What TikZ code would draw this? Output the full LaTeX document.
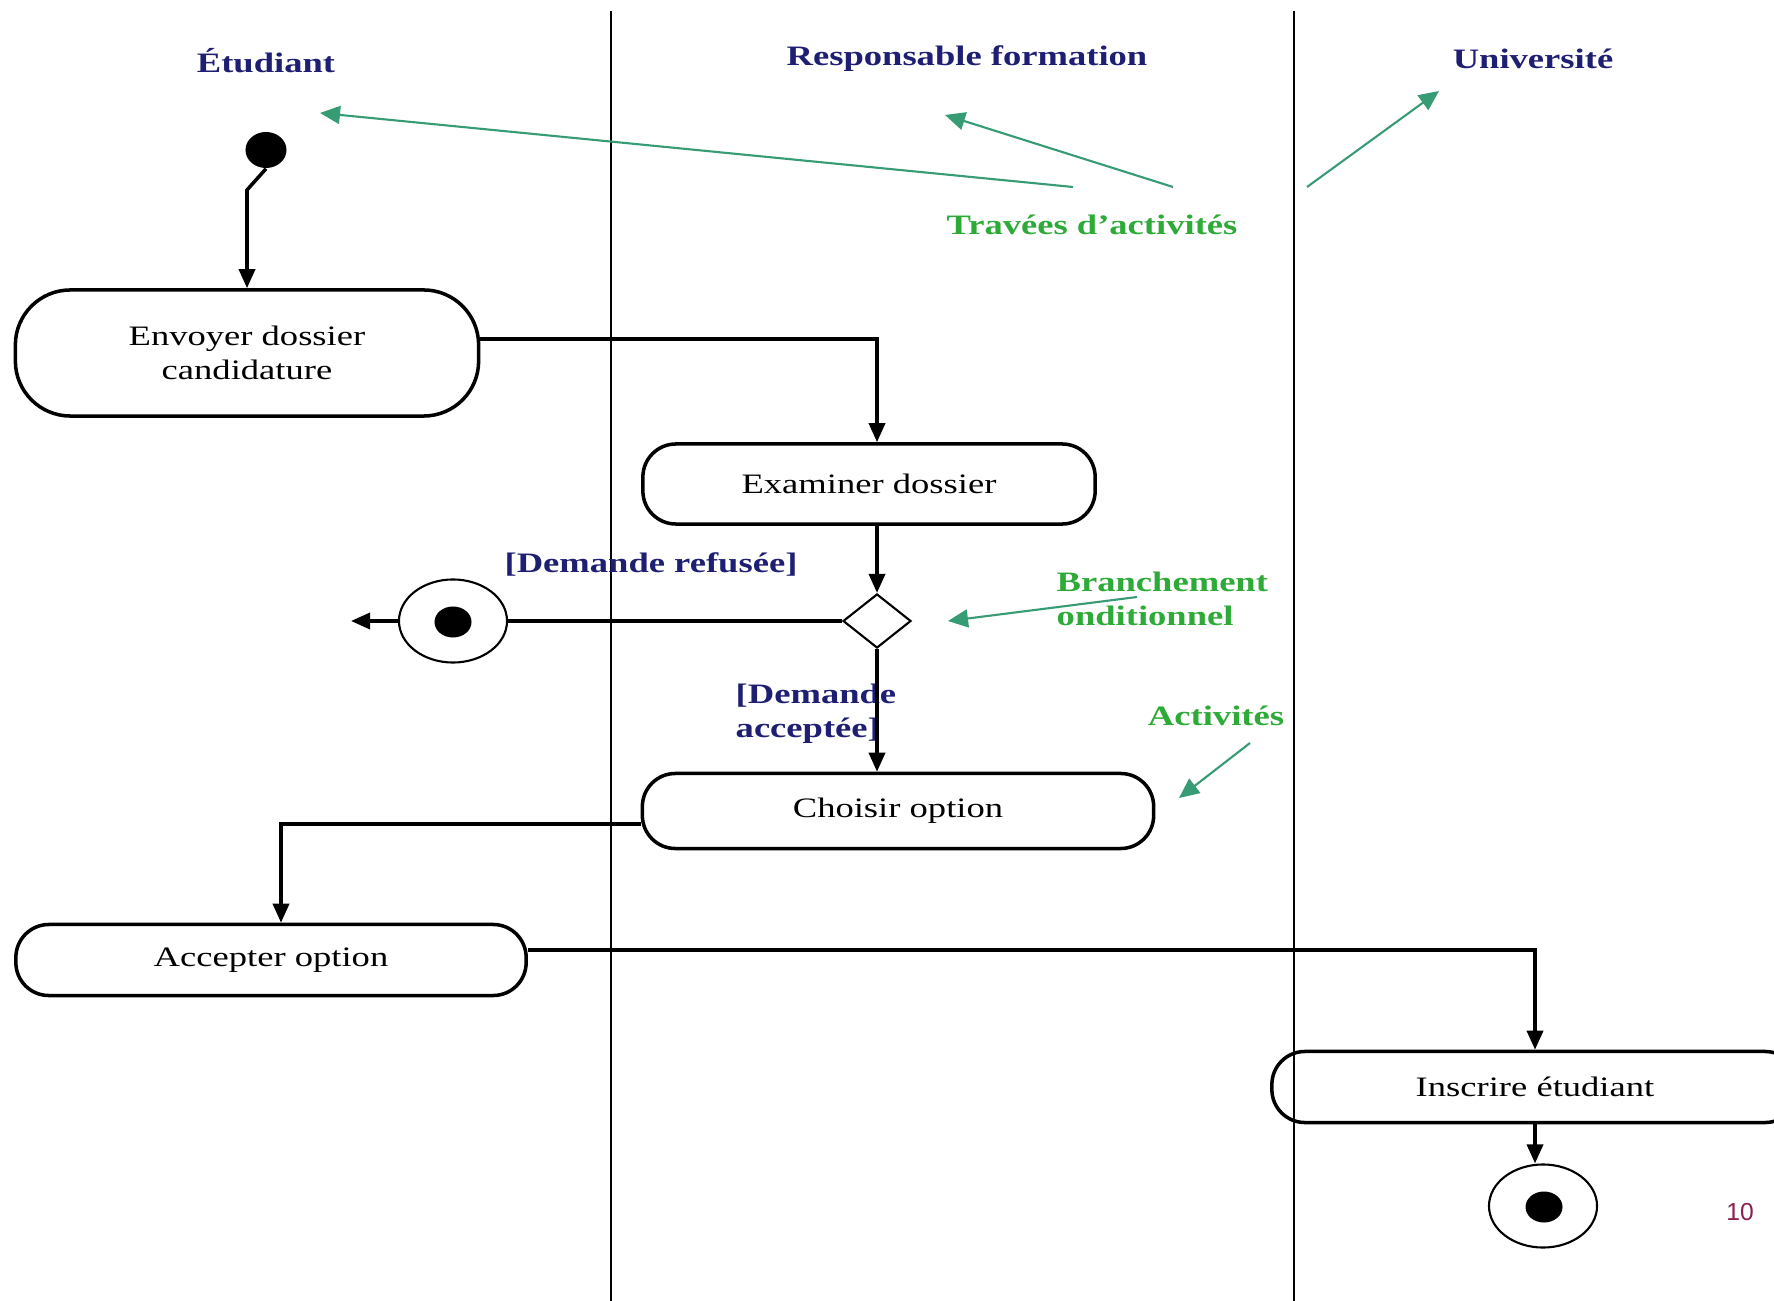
\documentclass[tikz,border=0pt]{standalone}
\usepackage{fontspec}
\setmainfont{Liberation Serif}[FakeStretch=1.3]
\newfontfamily\numfont{Liberation Sans}
\usetikzlibrary{shapes.geometric,arrows.meta}
\definecolor{titre}{RGB}{30,30,115}
\definecolor{vertTexte}{RGB}{45,170,55}
\definecolor{vertFleche}{RGB}{55,155,115}
\definecolor{numero}{RGB}{140,30,80}

\begin{document}
\begin{tikzpicture}[x=0.01cm,y=-0.01cm,
  activite/.style={draw,line width=1pt,rectangle,rounded corners=0.33cm,minimum height=0.8cm,align=center,font=\fontsize{8}{9.7}\selectfont},
  couloir/.style={titre,font=\bfseries\fontsize{8}{9.7}\selectfont},
  garde/.style={titre,align=left,inner sep=0pt,font=\bfseries\fontsize{8}{9.7}\selectfont},
  remarque/.style={vertTexte,align=left,inner sep=0pt,font=\bfseries\fontsize{8}{9.7}\selectfont},
  fleche/.style={line width=1pt,-{Triangle[length=0.19cm,width=0.16cm]}},
  renvoi/.style={vertFleche,semithick,-{Triangle[length=0.2cm,width=0.18cm]}},
  depart/.style={fill,ellipse,minimum width=0.41cm,minimum height=0.36cm,inner sep=0pt},
  decision/.style={draw,semithick,diamond,minimum width=0.68cm,minimum height=0.54cm,inner sep=0pt},
  finale/.style={draw,semithick,ellipse,minimum width=1.08cm,minimum height=0.83cm,inner sep=0pt},
  pastille/.style={fill,ellipse,minimum width=0.37cm,minimum height=0.31cm,inner sep=0pt}]
\useasboundingbox (0,0) rectangle (1774,1301);
\clip (0,0) rectangle (1774,1301);
%\draw[help lines,yellow,thin] (0,0) grid[step=100] (1774,1301);
\draw [semithick] (611,11) -- (611,1301);
\draw [semithick] (1294,11) -- (1294,1301);
\node [couloir] (etudiant) at (266,61) {Étudiant};
\node [couloir] (responsable) at (967,59) {Responsable formation};
\node [couloir] (universite) at (1533,59) {Université};
\node [depart] (debut) at (266,150) {};
\node [activite,minimum width=4.63cm,minimum height=1.26cm,rounded corners=0.55cm] (envoyer) at (247,353) {Envoyer dossier\\candidature};
\node [activite,minimum width=4.52cm] (examiner) at (869,484) {Examiner dossier};
\node [decision] (choix) at (877,621) {};
\node [finale] (finRefus) at (453,621) {};
\node [pastille] (pointRefus) at (453,622) {};
\coordinate (sortie) at (351,621);
\node [activite,minimum width=5.11cm,minimum height=0.75cm] (choisir) at (898,811) {Choisir option};
\node [activite,minimum width=5.1cm,minimum height=0.71cm] (accepter) at (271,960) {Accepter option};
\node [activite,minimum width=5.26cm,minimum height=0.71cm] (inscrire) at (1535,1087) {Inscrire étudiant};
\node [finale] (fin) at (1543,1206) {};
\node [pastille] (pointFin) at (1544,1207) {};
\node [garde] (refusee) at (651,564) {[Demande refusée]};
\node [garde,anchor=west] (acceptee) at (735,714) {[Demande\\acceptée]};
\node [remarque] (travees) at (1092,225) {Travées d'activités};
\node [remarque,anchor=west] (branchement) at (1056,599) {Branchement\\onditionnel};
\node [remarque] (activites) at (1216,716) {Activités};
\node [numero,font=\numfont\fontsize{7}{8}\selectfont] (page) at (1740,1212) {10};
\draw [fleche] (debut.south) -- (envoyer.north |- 0,190) -- (envoyer.north);
\draw [fleche] ([yshift=0.14cm]envoyer.east) -| (examiner.north -| choix.north);
\draw [fleche] (examiner.south -| choix.north) -- (choix.north);
\draw [line width=1pt] (choix.west) -- (finRefus.east);
\draw [fleche] (finRefus.west) -- (sortie);
\draw [fleche] (choix.south) -- (choisir.north -| choix.south);
\draw [fleche] ([yshift=-0.13cm]choisir.west) -| ([xshift=0.1cm]accepter.north);
\draw [fleche] ([yshift=0.1cm]accepter.east) -| (inscrire.north);
\draw [fleche] (inscrire.south) -- (fin.north -| inscrire.south);
\coordinate (departEtudiant) at (1073,187);
\coordinate (versEtudiant) at (320,113);
\coordinate (departResponsable) at (1173,187);
\coordinate (versResponsable) at (945,115);
\coordinate (departUniversite) at (1307,187);
\coordinate (versUniversite) at (1439,91);
\coordinate (departBranchement) at (1137,597);
\coordinate (versChoix) at (948,621);
\coordinate (departActivites) at (1250,743);
\coordinate (versChoisir) at (1179,798);
\draw [renvoi] (departEtudiant) -- (versEtudiant);
\draw [renvoi] (departResponsable) -- (versResponsable);
\draw [renvoi] (departUniversite) -- (versUniversite);
\draw [renvoi] (departBranchement) -- (versChoix);
\draw [renvoi] (departActivites) -- (versChoisir);
\end{tikzpicture}
\end{document}
